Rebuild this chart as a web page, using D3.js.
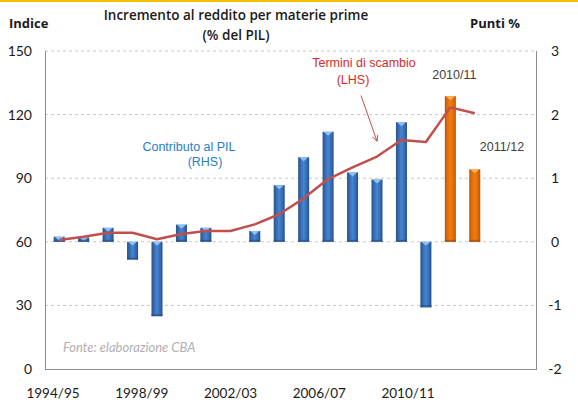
<!DOCTYPE html>
<html>
<head>
<meta charset="utf-8">
<script src="https://cdn.jsdelivr.net/npm/d3@7/dist/d3.min.js"></script>
<style>
  html, body { margin: 0; padding: 0; background: #fff; }
  svg { display: block; }
</style>
</head>
<body>
<svg id="chart" width="578" height="403"></svg>
<script>
// Financial years shown on the category axis
const years = ["1994/95","1995/96","1996/97","1997/98","1998/99","1999/00","2000/01","2001/02",
  "2002/03","2003/04","2004/05","2005/06","2006/07","2007/08","2008/09","2009/10","2010/11","2011/12"];

// Contributo al PIL, punti % (right axis)
const contributo = [0.08, 0.07, 0.22, -0.28, -1.17, 0.27, 0.22, null,
  0.17, 0.89, 1.33, 1.73, 1.09, 0.98, 1.88, -1.03, 2.29, 1.14];

// Termini di scambio, indice (left axis)
const termini = [60.8, 62.4, 64.3, 64.3, 61.2, 63.7, 65.1, 65.1,
  68.2, 73.0, 80.5, 89.6, 95.1, 100.2, 108.0, 107.1, 123.4, 120.6];

// Highlighted (forecast) years
const highlighted = ["2010/11", "2011/12"];

// Tick labels
const leftTicks = [0, 30, 60, 90, 120, 150];
const rightTicks = [-2, -1, 0, 1, 2, 3];
const xTickLabels = ["1994/95", "1998/99", "2002/03", "2006/07", "2010/11"];

const svg = d3.select("#chart");
const plot = { left: 45, right: 536, top: 51, bottom: 369 };

// Thin gold rule along the top edge
svg.append("rect").attr("x", 0).attr("y", 0).attr("width", 578).attr("height", 2).attr("fill", "#f5c000");

const x = d3.scaleBand().domain(years).range([47, 487]).paddingInner(0.55).paddingOuter(0.275);
const yL = d3.scaleLinear().domain([0, 150]).range([plot.bottom, plot.top]);
const yR = d3.scaleLinear().domain([-2, 3]).range([plot.bottom, plot.top]);
const xLab = d3.scalePoint().domain(xTickLabels).range([53, 408]);

const defs = svg.append("defs");
function barGradient(id, edge, mid, center) {
  const g = defs.append("linearGradient").attr("id", id).attr("x1", "0").attr("x2", "1").attr("y1", "0").attr("y2", "0");
  g.append("stop").attr("offset", "0%").attr("stop-color", edge);
  g.append("stop").attr("offset", "18%").attr("stop-color", mid);
  g.append("stop").attr("offset", "50%").attr("stop-color", center);
  g.append("stop").attr("offset", "82%").attr("stop-color", mid);
  g.append("stop").attr("offset", "100%").attr("stop-color", edge);
}
barGradient("gBlue", "#274e85", "#3467ab", "#4585d3");
barGradient("gOrange", "#a8520e", "#de6a08", "#f27c10");

// Gridlines
svg.append("g").selectAll("line").data(leftTicks.filter(d => d > 0)).join("line")
  .attr("x1", plot.left).attr("x2", plot.right)
  .attr("y1", d => yL(d)).attr("y2", d => yL(d))
  .attr("stroke", "#c8c8c8").attr("stroke-width", 1).attr("stroke-dasharray", "3,3");

// Bars
const barData = years.map((y, i) => ({ year: y, v: contributo[i] })).filter(d => d.v !== null);
const bars = svg.append("g").selectAll("g").data(barData).join("g");
bars.append("rect")
  .attr("x", d => x(d.year))
  .attr("width", x.bandwidth())
  .attr("y", d => Math.min(yR(d.v), yR(0)))
  .attr("height", d => Math.abs(yR(d.v) - yR(0)))
  .attr("fill", d => highlighted.includes(d.year) ? "url(#gOrange)" : "url(#gBlue)");
// Bevel highlight on the top face
bars.append("path")
  .attr("d", d => {
    const x0 = x(d.year), w = x.bandwidth();
    const top = Math.min(yR(d.v), yR(0));
    const h = Math.min(4, Math.abs(yR(d.v) - yR(0)));
    return `M${x0 + 1},${top} L${x0 + w - 1},${top} L${x0 + w / 2},${top + h} Z`;
  })
  .attr("fill", d => highlighted.includes(d.year) ? "#ffb45a" : "#8cc2f4");
// Darker base band
bars.append("rect")
  .attr("x", d => x(d.year))
  .attr("width", x.bandwidth())
  .attr("y", d => Math.max(yR(d.v), yR(0)) - 2)
  .attr("height", 2)
  .attr("fill", d => highlighted.includes(d.year) ? "#9a4a0c" : "#2a4f80")
  .attr("opacity", 0.7);

// Axis frame
const frame = svg.append("g").attr("stroke", "#8c8c8c").attr("stroke-width", 1);
frame.append("line").attr("x1", plot.left + 0.5).attr("x2", plot.left + 0.5).attr("y1", plot.top).attr("y2", plot.bottom);
frame.append("line").attr("x1", plot.right + 0.5).attr("x2", plot.right + 0.5).attr("y1", plot.top).attr("y2", plot.bottom);
frame.append("line").attr("x1", plot.left).attr("x2", plot.right + 1).attr("y1", plot.bottom + 0.5).attr("y2", plot.bottom + 0.5);

// Terms of trade line
const line = d3.line().x((d, i) => x(years[i]) + x.bandwidth() / 2).y(d => yL(d));
svg.append("path").datum(termini).attr("d", line)
  .attr("fill", "none").attr("stroke", "#c0504d").attr("stroke-width", 2.5).attr("stroke-linejoin", "round");

// Tick labels
const tickFont = "Lato, 'Open Sans', sans-serif";
svg.append("g").selectAll("text").data(leftTicks).join("text")
  .attr("x", 32).attr("y", d => yL(d)).attr("dy", "0.35em")
  .attr("text-anchor", "end").attr("font-family", tickFont).attr("font-size", 14).attr("fill", "#1a1a1a")
  .text(d => d);
svg.append("g").selectAll("text").data(rightTicks).join("text")
  .attr("x", 555).attr("y", d => yR(d)).attr("dy", "0.35em")
  .attr("text-anchor", "middle").attr("font-family", tickFont).attr("font-size", 14).attr("fill", "#1a1a1a")
  .text(d => d);
svg.append("g").selectAll("text").data(xTickLabels).join("text")
  .attr("x", d => xLab(d)).attr("y", 398)
  .attr("text-anchor", "middle").attr("font-family", tickFont).attr("font-size", 13.5).attr("fill", "#1a1a1a")
  .text(d => d);

// Titles
const titleFont = "'Open Sans', 'DejaVu Sans', sans-serif";
svg.append("text").attr("x", 236).attr("y", 20).attr("text-anchor", "middle")
  .attr("font-family", titleFont).attr("font-weight", 600).attr("font-size", 13.5).attr("fill", "#1a1a1a")
  .text("Incremento al reddito per materie prime");
svg.append("text").attr("x", 236).attr("y", 39.5).attr("text-anchor", "middle")
  .attr("font-family", titleFont).attr("font-weight", 600).attr("font-size", 13.5).attr("fill", "#1a1a1a")
  .text("(% del PIL)");
svg.append("text").attr("x", 9).attr("y", 28)
  .attr("font-family", titleFont).attr("font-weight", 700).attr("font-size", 13).attr("fill", "#1a1a1a")
  .text("Indice");
svg.append("text").attr("x", 520).attr("y", 28).attr("text-anchor", "end")
  .attr("font-family", titleFont).attr("font-weight", 700).attr("font-size", 13).attr("fill", "#1a1a1a")
  .text("Punti %");

// Series annotations
const noteFont = "'Liberation Sans', Arial, sans-serif";
const ann = svg.append("g").attr("font-family", noteFont).attr("font-size", 12.5).attr("text-anchor", "middle");
ann.append("text").attr("x", 364).attr("y", 67).attr("fill", "#d42a2a").text("Termini di scambio");
ann.append("text").attr("x", 353).attr("y", 84).attr("fill", "#d42a2a").text("(LHS)");
ann.append("text").attr("x", 189).attr("y", 151).attr("fill", "#2a7dc8").text("Contributo al PIL");
ann.append("text").attr("x", 205).attr("y", 166).attr("fill", "#2a7dc8").text("(RHS)");
ann.append("text").attr("x", x("2010/11") + x.bandwidth() / 2 + 4).attr("y", 79).attr("fill", "#404040").text("2010/11");
ann.append("text").attr("x", 502).attr("y", 151).attr("fill", "#404040").text("2011/12");

// Arrow pointing at the terms-of-trade line
defs.append("marker").attr("id", "arrowHead").attr("viewBox", "0 0 10 10").attr("refX", 9).attr("refY", 5)
  .attr("markerWidth", 7).attr("markerHeight", 7).attr("orient", "auto-start-reverse")
  .append("path").attr("d", "M1,1 L9,5 L1,9").attr("fill", "none").attr("stroke", "#c0504d").attr("stroke-width", 1.3);
const tipX = x("2007/08") + x.bandwidth() / 2;
svg.append("line")
  .attr("x1", tipX - 16).attr("y1", yL(129))
  .attr("x2", tipX).attr("y2", yL(107.5))
  .attr("stroke", "#c0504d").attr("stroke-width", 1).attr("marker-end", "url(#arrowHead)");

// Source note
svg.append("text").attr("x", 63).attr("y", 352)
  .attr("font-family", "Lato, 'Open Sans', sans-serif").attr("font-style", "italic").attr("font-size", 13)
  .attr("fill", "#b0b0b0").text("Fonte: elaborazione CBA");
</script>
</body>
</html>
